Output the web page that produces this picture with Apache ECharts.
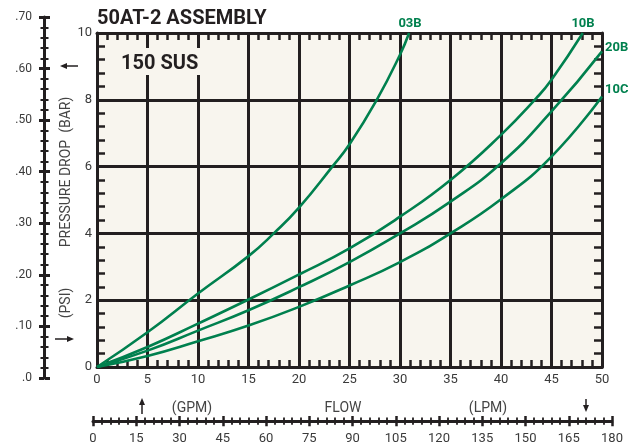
<!DOCTYPE html>
<html>
<head>
<meta charset="utf-8">
<script src="https://cdn.jsdelivr.net/npm/echarts@6/dist/echarts.min.js"></script>
<style>
html,body{margin:0;padding:0;background:#ffffff;}
#chart{width:631px;height:443px;}
</style>
</head>
<body>
<div id="chart"></div>
<script>
// ---- data (flow in GPM, pressure drop in PSI) ----
const curveNames = ['03B', '10B', '20B', '10C'];
const s03B = [[0,0],[5,1.04],[10,2.2],[15,3.32],[17.5,4],[20,4.77],[23.3,6],[25,6.67],[27.7,8],[30,9.35],[30.9,10]];
const s10B = [[0,0],[5,0.6],[10,1.3],[15,2.02],[20,2.77],[25,3.55],[30,4.5],[35,5.6],[40,6.95],[43.5,8.05],[45,8.6],[48.1,10]];
const s20B = [[0,0],[5,0.49],[10,1.09],[15,1.7],[20,2.39],[25,3.14],[30,4.0],[35,4.95],[40,6.1],[45,7.65],[50,9.45]];
const s10C = [[0,0],[5,0.33],[10,0.77],[15,1.24],[20,1.8],[25,2.44],[30,3.14],[35,4.0],[40,5.02],[45,6.3],[50,8.1]];
const barLabels = ['.0', '.10', '.20', '.30', '.40', '.50', '.60', '.70'];
const lpmTicks = [0, 15, 30, 45, 60, 75, 90, 105, 120, 135, 150, 165, 180];

const ink = '#231f20';
const labelGray = '#3a3a3a';
const green = '#00804e';
const cream = '#f8f5ee';

const chart = echarts.init(document.getElementById('chart'), null, {renderer: 'canvas'});

function mainX(pos, showLabel) {
  return {
    gridIndex: 0, type: 'value', min: 0, max: 50, interval: 5, position: pos,
    axisLine: {show: true, onZero: false, lineStyle: {color: ink, width: 3}},
    axisTick: {show: false, inside: true},
    minorTick: {show: true, splitNumber: 5, length: 7, lineStyle: {color: ink, width: 2.5}},
    splitLine: {show: showLabel, lineStyle: {color: ink, width: 3}},
    axisLabel: {show: showLabel, color: labelGray, fontSize: 13, fontFamily: 'Roboto', margin: 6}
  };
}
function mainY(pos, showLabel) {
  return {
    gridIndex: 0, type: 'value', min: 0, max: 10, interval: 2, position: pos,
    axisLine: {show: true, onZero: false, lineStyle: {color: ink, width: 3}},
    axisTick: {show: false, inside: true},
    minorTick: {show: true, splitNumber: 5, length: 8, lineStyle: {color: ink, width: 2.5}},
    splitLine: {show: showLabel, lineStyle: {color: ink, width: 3}},
    axisLabel: {show: showLabel, color: labelGray, fontSize: 13, fontFamily: 'Roboto', margin: 5}
  };
}
function barY(pos, showLabel) {
  return {
    gridIndex: 1, type: 'value', min: 0, max: 0.7, interval: 0.1, position: pos,
    axisLine: {show: showLabel, onZero: false, lineStyle: {color: ink, width: 3}},
    axisTick: {show: true, length: 5, lineStyle: {color: ink, width: 3}},
    minorTick: {show: true, splitNumber: 5, length: 3.5, lineStyle: {color: ink, width: 2}},
    splitLine: {show: false},
    axisLabel: {show: showLabel, color: labelGray, fontSize: 12, fontFamily: 'Roboto', margin: 12,
      formatter: function (v, i) { return barLabels[i]; }}
  };
}
function lpmX(pos, showLabel) {
  return {
    gridIndex: 2, type: 'value', min: lpmTicks[0], max: lpmTicks[lpmTicks.length - 1], interval: 15, position: pos,
    axisLine: {show: showLabel, onZero: false, lineStyle: {color: ink, width: 3}},
    axisTick: {show: true, length: 5, lineStyle: {color: ink, width: 2.5}},
    minorTick: {show: true, splitNumber: 5, length: 3.5, lineStyle: {color: ink, width: 1.8}},
    splitLine: {show: false},
    axisLabel: {show: showLabel, color: labelGray, fontSize: 13, fontFamily: 'Roboto', margin: 11}
  };
}

function lineSeries(name, data) {
  return {
    name: name, type: 'line', xAxisIndex: 0, yAxisIndex: 0, data: data,
    smooth: 0.5, showSymbol: false, symbol: 'none', clip: true,
    lineStyle: {color: green, width: 2.6}, z: 5
  };
}

function txt(x, y, text, font, fill, align, extra) {
  return Object.assign({
    type: 'text', x: x, y: y, z: 100,
    style: {text: text, font: font, fill: fill, align: align || 'left', textAlign: align || 'left',
      verticalAlign: 'middle', textVerticalAlign: 'middle'}
  }, extra || {});
}
function arrowLine(x1, y1, x2, y2) {
  return {type: 'line', z: 100, shape: {x1: x1, y1: y1, x2: x2, y2: y2}, style: {stroke: ink, lineWidth: 1.5}};
}
function arrowHead(pts) {
  return {type: 'polygon', z: 100, shape: {points: pts}, style: {fill: ink}};
}

const option = {
  animation: false,
  backgroundColor: '#ffffff',
  grid: [
    {left: 97, top: 33, width: 505, height: 334, show: true, backgroundColor: cream, borderWidth: 0},
    {left: 44, top: 17, width: 1, height: 361},
    {left: 93, top: 421, width: 519, height: 1}
  ],
  xAxis: [
    mainX('bottom', true),
    mainX('top', false),
    {gridIndex: 1, type: 'value', min: 0, max: 1, show: false},
    lpmX('bottom', true),
    lpmX('top', false)
  ],
  yAxis: [
    mainY('left', true),
    mainY('right', false),
    barY('left', true),
    barY('right', false),
    {gridIndex: 2, type: 'value', min: 0, max: 1, show: false}
  ],
  series: [
    lineSeries(curveNames[0], s03B),
    lineSeries(curveNames[1], s10B),
    lineSeries(curveNames[2], s20B),
    lineSeries(curveNames[3], s10C)
  ],
  graphic: [
    txt(97, 19, '50AT-2 ASSEMBLY', 'bold 20px Roboto', ink, 'left'),
    {type: 'rect', z: 90, shape: {x: 112, y: 48, width: 96, height: 27}, style: {fill: cream}},
    txt(121, 64, '150 SUS', 'bold 20px Roboto', ink, 'left'),
    txt(410, 24, curveNames[0], 'bold 13px Roboto', green, 'center'),
    txt(583, 24, curveNames[1], 'bold 13px Roboto', green, 'center'),
    txt(605, 48, curveNames[2], 'bold 13px Roboto', green, 'left'),
    txt(605, 90, curveNames[3], 'bold 13px Roboto', green, 'left'),
    txt(66, 172, 'PRESSURE DROP  (BAR)', '14px Roboto', '#444444', 'center', {rotation: Math.PI / 2}),
    txt(66, 303, '(PSI)', '14px Roboto', '#444444', 'center', {rotation: Math.PI / 2}),
    txt(192, 408, '(GPM)', '14px Roboto', '#444444', 'center'),
    txt(343, 408, 'FLOW', '14px Roboto', '#444444', 'center'),
    txt(488, 408, '(LPM)', '14px Roboto', '#444444', 'center'),
    arrowLine(65, 66, 78, 66), arrowHead([[60, 66], [67, 63], [67, 69]]),
    arrowLine(55, 339, 68, 339), arrowHead([[74, 339], [67, 336], [67, 342]]),
    arrowLine(142, 403, 142, 414), arrowHead([[142, 398], [139, 405], [145, 405]]),
    arrowLine(586, 399, 586, 406), arrowHead([[586, 412], [583, 405], [589, 405]])
  ]
};
chart.setOption(option);
</script>
</body>
</html>
